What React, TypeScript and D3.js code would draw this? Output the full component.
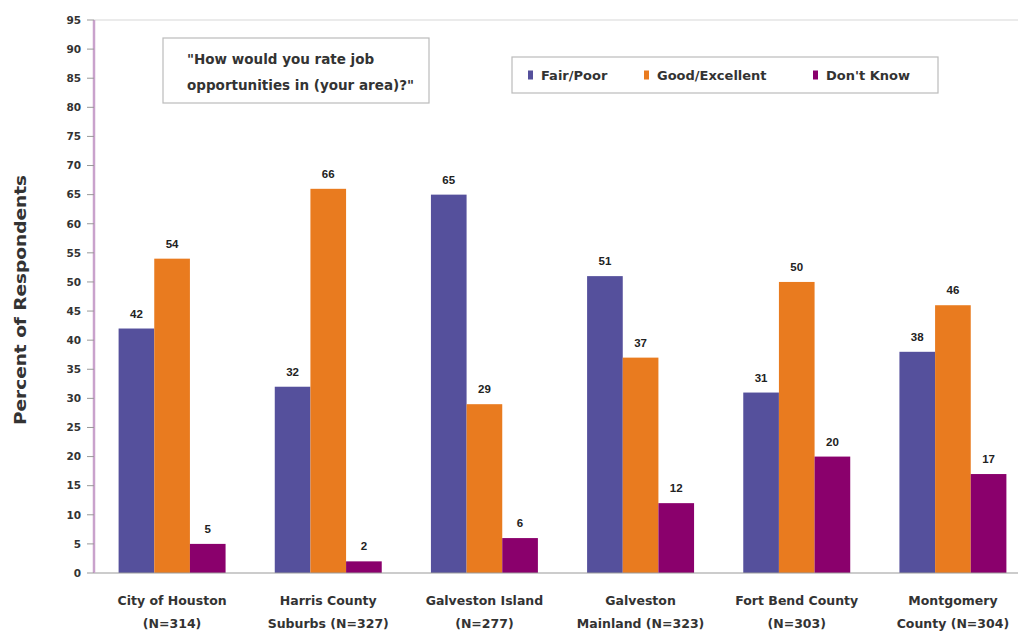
import React from "react";
import * as d3 from "d3";

const categories = [
  ["City of Houston", "(N=314)"],
  ["Harris County", "Suburbs (N=327)"],
  ["Galveston Island", "(N=277)"],
  ["Galveston", "Mainland (N=323)"],
  ["Fort Bend County", "(N=303)"],
  ["Montgomery", "County (N=304)"],
];
const seriesNames = ["Fair/Poor", "Good/Excellent", "Don't Know"];
const fairPoor = [42, 32, 65, 51, 31, 38];
const goodExcellent = [54, 66, 29, 37, 50, 46];
const dontKnow = [5, 2, 6, 12, 20, 17];
const yTicks = d3.range(0, 96, 5);
const colors = ["#55509c", "#e97b1f", "#8a006c"];
const questionLines = ['"How would you rate job', 'opportunities in (your area)?"'];

const W = 1018;
const H = 631;
const wide = "'DejaVu Sans', Verdana, sans-serif";
const narrow = "'Liberation Sans', Arial, sans-serif";

export default function App() {
  const series = [fairPoor, goodExcellent, dontKnow];
  const left = 94;
  const top = 20;
  const bottom = 573;
  const x = d3
    .scaleBand<number>()
    .domain(d3.range(categories.length))
    .range([left, 1031])
    .paddingInner(0.315)
    .paddingOuter(0.1575);
  const xs = d3
    .scaleBand<number>()
    .domain(d3.range(series.length))
    .range([0, x.bandwidth()]);
  const y = d3.scaleLinear().domain([0, 95]).range([bottom, top]);

  return (
    <svg
      width={W}
      height={H}
      style={{ position: "absolute", left: 0, top: 0, background: "#fff" }}
      fontFamily={wide}
    >
      <rect x={0} y={0} width={W} height={H} fill="#fff" />
      {/* plot frame top */}
      <line x1={left} x2={W} y1={top} y2={top} stroke="#e4e4e4" strokeWidth={1.5} />

      {/* bars and value labels */}
      {series.map((vals, s) =>
        vals.map((v, i) => {
          const bx = (x(i) as number) + (xs(s) as number);
          return (
            <g key={`${s}-${i}`}>
              <rect
                x={bx}
                y={y(v)}
                width={xs.bandwidth()}
                height={bottom - y(v)}
                fill={colors[s]}
              />
              <text
                x={bx + xs.bandwidth() / 2}
                y={y(v) - 11}
                textAnchor="middle"
                fontFamily={narrow}
                fontSize={11.5}
                fontWeight="bold"
                fill="#222"
              >
                {v}
              </text>
            </g>
          );
        })
      )}

      {/* baseline */}
      <line x1={left} x2={W} y1={bottom} y2={bottom} stroke="#999" strokeWidth={1.2} />

      {/* y axis */}
      <line x1={left} x2={left} y1={top} y2={bottom} stroke="#c9a2cc" strokeWidth={2.5} />
      {yTicks.map((t) => (
        <g key={t}>
          <line x1={left - 7} x2={left} y1={y(t)} y2={y(t)} stroke="#999" strokeWidth={1} />
          <text
            x={81}
            y={y(t)}
            dy="0.36em"
            textAnchor="end"
            fontSize={10.5}
            fontWeight="bold"
            fill="#333"
          >
            {t}
          </text>
        </g>
      ))}
      <text
        transform="translate(26,300) rotate(-90)"
        textAnchor="middle"
        fontSize={15.5}
        fontWeight="bold"
        fill="#333"
        textLength={250}
        lengthAdjust="spacingAndGlyphs"
      >
        Percent of Respondents
      </text>

      {/* category labels */}
      {categories.map((c, i) => {
        const cx = (x(i) as number) + x.bandwidth() / 2;
        return (
          <g key={i}>
            <text x={cx} y={605} textAnchor="middle" fontSize={12.5} fontWeight="bold" fill="#333">
              {c[0]}
            </text>
            <text x={cx} y={628} textAnchor="middle" fontSize={12.5} fontWeight="bold" fill="#333">
              {c[1]}
            </text>
          </g>
        );
      })}

      {/* question box */}
      <rect x={163} y={38} width={266} height={65} fill="#fff" stroke="#bbb" strokeWidth={1.2} />
      {questionLines.map((q, k) => (
        <text key={k} x={187} y={[63.5, 89.5][k]} fontSize={13.5} fontWeight="bold" fill="#333">
          {q}
        </text>
      ))}

      {/* legend */}
      <rect x={512} y={57} width={426} height={36} fill="#fff" stroke="#bbb" strokeWidth={1.2} />
      {seriesNames.map((n, s) => {
        const lx = [528, 644, 813][s];
        return (
          <g key={n}>
            <rect x={lx} y={70.5} width={5} height={9} fill={colors[s]} />
            <text x={lx + 13} y={79.5} fontSize={13} fontWeight="bold" fill="#333">
              {n}
            </text>
          </g>
        );
      })}
    </svg>
  );
}
